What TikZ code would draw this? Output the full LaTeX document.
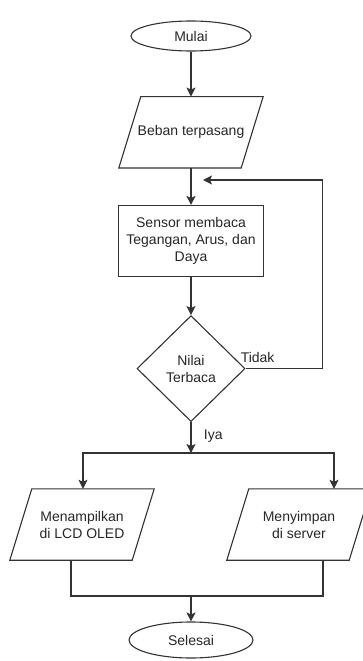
\documentclass[tikz,border=0pt]{standalone}
\usepackage{fontspec}
\setmainfont{Liberation Sans}
\usepackage{tikz}
\usetikzlibrary{shapes.geometric,positioning,arrows.meta}

\begin{document}
\begin{tikzpicture}[x=1pt,y=-1pt,
	font=\fontsize{14}{17}\selectfont, text=black!85,
	every node/.style={align=center},
	line/.style={draw=black!80, line width=1.1pt},
	tip/.style={-{Stealth[length=9pt,width=9pt,inset=2pt]}},
	arr/.style={line, tip},
	terminal/.style={line, ellipse, inner sep=0pt},
	io/.style={rectangle, minimum width=122pt, minimum height=71pt, inner sep=0pt,
		append after command={\pgfextra{\draw[line]
			([xshift=11pt]\tikzlastnode.north west) -- ([xshift=11pt]\tikzlastnode.north east)
			-- ([xshift=-11pt]\tikzlastnode.south east) -- ([xshift=-11pt]\tikzlastnode.south west)
			-- cycle;}}},
	proc/.style={line, rectangle, minimum width=145pt, minimum height=71pt, inner sep=0pt},
	dec/.style={line, diamond, minimum width=108pt, minimum height=106pt, inner sep=0pt}]
	\useasboundingbox (0,0) rectangle (362,661);

	\node[terminal, minimum width=120pt, minimum height=30pt] (mulai) at (191,36) {Mulai};
	\node[io] (beban) [below=45pt of mulai] {Beban terpasang};
	\node[proc] (sensor) [below=37pt of beban] {Sensor membaca\\Tegangan, Arus, dan\\Daya};
	\node[dec] (nilai) [below=38pt of sensor] {Nilai\\Terbaca};
	\node[io] (tampil) at (82,524.5) {Menampilkan\\di LCD OLED};
	\node[io] (simpan) at (299,524.5) {Menyimpan\\di server};
	\node[terminal, minimum width=124pt, minimum height=36pt] (selesai) at (191,640) {Selesai};

	\coordinate (ret) at (203,180);
	\coordinate (split) at (191,453);
	\coordinate (merge) at (191,596);

	\path[tip]
	(mulai) edge[line] (beban)
	(beban) edge[line] (sensor)
	(sensor) edge[line] (nilai)
	(nilai) edge[line] node[right=9pt, pos=0.45] {Iya} (split)
	(merge) edge[line] (selesai);

	% kembali ke sensor
	\draw[arr] (nilai.east) -- ++(77,0) |- (ret);
	\node[anchor=south west, inner sep=0pt] (tidak) at ([xshift=-5pt,yshift=6pt]nilai.east) {Tidak};

	\draw[arr] (split) -| ([xshift=1pt]tampil.north);
	\draw[arr] (split) -| ([xshift=35pt]simpan.north);
	\draw[line] ([xshift=-11pt]tampil.south) |- (merge);
	\draw[line] ([xshift=24pt]simpan.south) |- (merge);
\end{tikzpicture}
\end{document}
